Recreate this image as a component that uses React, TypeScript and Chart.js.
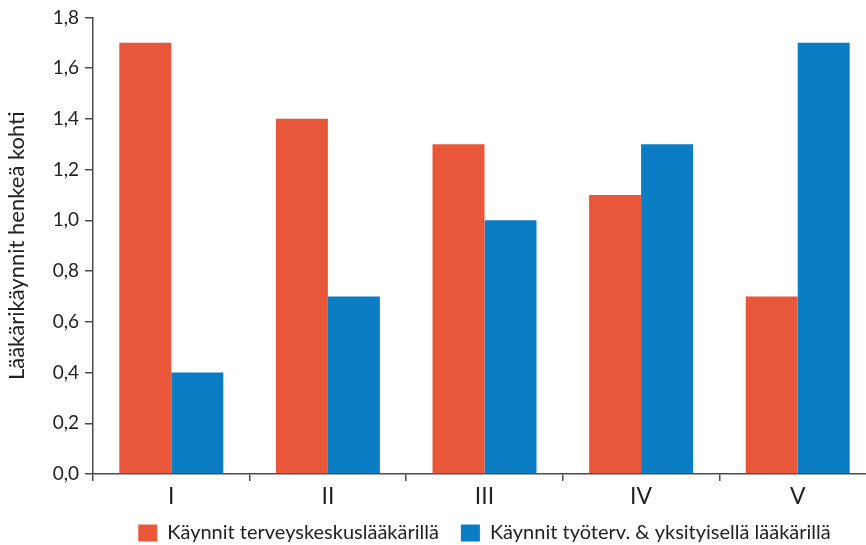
import React, { useEffect, useRef } from "react";
import { Chart, registerables } from "chart.js";

Chart.register(...registerables);

const categories = ["I", "II", "III", "IV", "V"];
const terveyskeskus = [1.7, 1.4, 1.3, 1.1, 0.7];
const tyoterveysYksityinen = [0.4, 0.7, 1.0, 1.3, 1.7];
const seriesNames = ["Käynnit terveyskeskuslääkärillä", "Käynnit työterv. & yksityisellä lääkärillä"];
const yTitle = "Lääkärikäynnit henkeä kohti";

const ORANGE = "#E8573A";
const BLUE = "#0A7DC4";
const AXIS = "#4a4a4a";
const TEXT = "#222222";
const FONT = "Lato, 'Open Sans', sans-serif";

const legendPlacePlugin = {
  id: "legendPlace",
  beforeInit(chart: any) {
    const legend = chart.legend;
    if (!legend) return;
    const orig = legend.fit;
    legend.fit = function () {
      orig.call(this);
      this.height = 31;
    };
  },
  afterLayout(chart: any) {
    const legend = chart.legend;
    if (!legend) return;
    legend.top = legend.bottom - 44;
  },
};

export default function App() {
  const ref = useRef<HTMLCanvasElement | null>(null);

  useEffect(() => {
    if (!ref.current) return;
    const chart = new Chart(ref.current, {
      type: "bar",
      data: {
        labels: categories,
        datasets: [
          {
            label: seriesNames[0],
            data: terveyskeskus,
            backgroundColor: ORANGE,
            borderWidth: 0,
            categoryPercentage: 0.664,
            barPercentage: 1.0,
          },
          {
            label: seriesNames[1],
            data: tyoterveysYksityinen,
            backgroundColor: BLUE,
            borderWidth: 0,
            categoryPercentage: 0.664,
            barPercentage: 1.0,
          },
        ],
      },
      plugins: [legendPlacePlugin],
      options: {
        animation: false,
        responsive: false,
        devicePixelRatio: 1,
        layout: { padding: { top: 9, bottom: 0, left: 0, right: 0 } },
        plugins: {
          tooltip: { enabled: false },
          legend: {
            position: "bottom",
            fullSize: false,
            labels: {
              boxWidth: 19,
              boxHeight: 17,
              padding: 22,
              color: TEXT,
              font: { family: FONT, size: 20 },
            },
          },
        },
        scales: {
          x: {
            afterFit: (scale: any) => {
              scale.height = 40;
            },
            grid: {
              display: true,
              offset: true,
              drawOnChartArea: false,
              drawTicks: true,
              tickLength: 7,
              color: AXIS,
              lineWidth: 1.5,
            },
            border: { display: true, color: AXIS, width: 1.5 },
            ticks: {
              color: TEXT,
              padding: 2,
              font: { family: FONT, size: 23 },
            },
          },
          y: {
            min: 0,
            max: 1.8,
            afterFit: (scale: any) => {
              scale.width = 93;
            },
            grid: {
              display: true,
              drawOnChartArea: false,
              drawTicks: true,
              tickLength: 8,
              color: AXIS,
              lineWidth: 1.5,
            },
            border: { display: true, color: AXIS, width: 1.5 },
            ticks: {
              stepSize: 0.2,
              color: TEXT,
              padding: 6,
              font: { family: FONT, size: 19 },
              callback: (v: any) => Number(v).toFixed(1).replace(".", ","),
            },
            title: {
              display: true,
              text: yTitle,
              color: TEXT,
              padding: { top: 4, bottom: 0 },
              font: { family: FONT, size: 22 },
            },
          },
        },
      },
    });
    return () => chart.destroy();
  }, []);

  return (
    <div style={{ position: "fixed", left: 0, top: 0, width: 866, height: 545, overflow: "hidden", background: "#fff" }}>
      <canvas ref={ref} width={876} height={545} style={{ width: 876, height: 545, display: "block" }} />
    </div>
  );
}
